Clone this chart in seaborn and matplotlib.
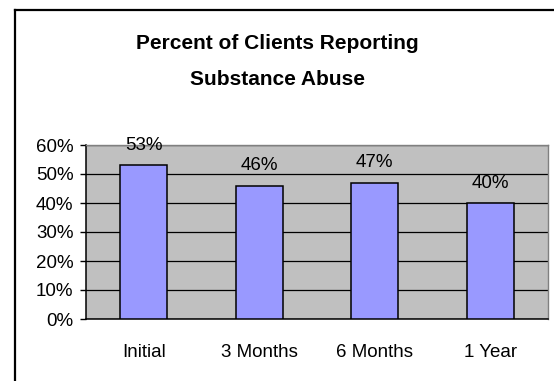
import matplotlib
matplotlib.use("Agg")
import matplotlib.pyplot as plt
from matplotlib.lines import Line2D
from matplotlib.ticker import FixedLocator, PercentFormatter
import seaborn as sns

# Share of clients reporting substance abuse at each follow-up point
categories = ["Initial", "3 Months", "6 Months", "1 Year"]
percent_reporting = [0.53, 0.46, 0.47, 0.40]
y_ticks = [0.0, 0.1, 0.2, 0.3, 0.4, 0.5, 0.6]
title_lines = ["Percent of Clients Reporting", "Substance Abuse"]

sns.set_style("white")
plt.rcParams["font.family"] = ["Liberation Sans", "DejaVu Sans"]
plt.rcParams["text.color"] = "black"
plt.rcParams["xtick.color"] = "black"
plt.rcParams["ytick.color"] = "black"
plt.rcParams["xtick.labelcolor"] = "black"
plt.rcParams["ytick.labelcolor"] = "black"

W, H, DPI = 554, 381, 100
fig = plt.figure(figsize=(W / DPI, H / DPI), dpi=DPI)
ax = fig.add_axes([86 / W, 1 - 319 / H, (548 - 86) / W, (319 - 145) / H])
ax.set_facecolor("#C0C0C0")

sns.barplot(x=categories, y=percent_reporting, color="#9999FF", saturation=1,
            edgecolor="black", linewidth=1.1, width=0.41, ax=ax, zorder=3)

ax.set_ylim(0, 0.6)
ax.set_xlim(-0.5, len(categories) - 0.5)
ax.yaxis.set_major_locator(FixedLocator(y_ticks))
ax.yaxis.set_major_formatter(PercentFormatter(1.0, decimals=0))
ax.grid(axis="y", color="#000000", linewidth=0.9, zorder=1)
ax.set_axisbelow(True)
ax.set_xlabel("")
ax.set_ylabel("")

# category-boundary tick marks, as in spreadsheet charts
ax.set_xticks([i - 0.5 for i in range(len(categories) + 1)], minor=True)
ax.tick_params(axis="x", which="minor", length=4.5, width=1, color="black", direction="out")
ax.tick_params(axis="x", which="major", length=0, pad=18, labelsize=13.5,
               labelcolor="black")
ax.tick_params(axis="y", which="major", length=4.5, width=1, color="black",
               direction="out", pad=4.5, labelsize=13.5, left=True, labelcolor="black")

for side in ("left", "bottom"):
    ax.spines[side].set_color("black")
    ax.spines[side].set_linewidth(1.1)
for side in ("top", "right"):
    ax.spines[side].set_visible(True)
    ax.spines[side].set_color("#808080")
    ax.spines[side].set_linewidth(1.0)

for bar, v in zip(ax.patches, percent_reporting):
    ax.annotate(f"{v:.0%}", (bar.get_x() + bar.get_width() / 2, bar.get_height()),
                xytext=(0, 11), textcoords="offset points",
                ha="center", va="baseline", fontsize=13.5, color="black")

fig.text(0.5, 1 - 49 / H, title_lines[0], ha="center", va="baseline",
         fontsize=15, fontweight="bold", color="black")
fig.text(0.5, 1 - 85 / H, title_lines[1], ha="center", va="baseline",
         fontsize=15, fontweight="bold", color="black")

# chart frame along the top and left edges
fig.add_artist(Line2D([15 / W, 15 / W], [0, 1 - 10 / H], transform=fig.transFigure,
                      color="black", linewidth=1.6, solid_capstyle="projecting"))
fig.add_artist(Line2D([15 / W, 1], [1 - 10 / H, 1 - 10 / H], transform=fig.transFigure,
                      color="black", linewidth=1.6, solid_capstyle="projecting"))

fig.savefig("out.png", dpi=DPI, facecolor="white")
